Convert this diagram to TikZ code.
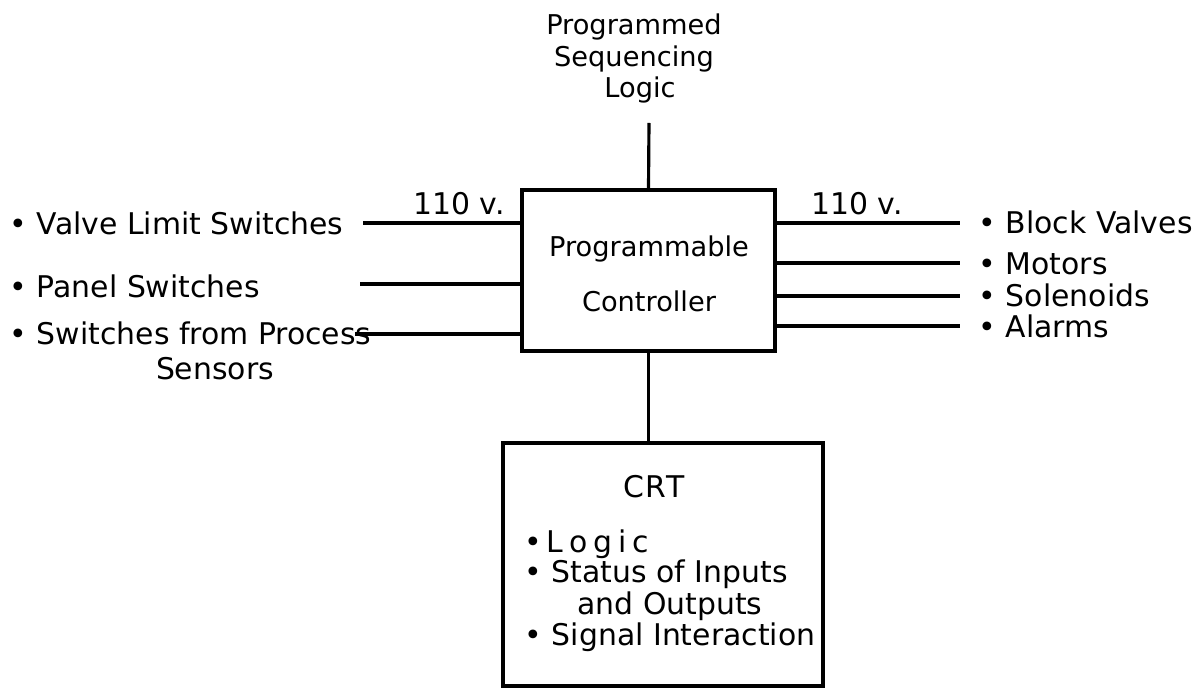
\documentclass[tikz,border=0pt]{standalone}
\usepackage{fontspec}
\setmainfont{DejaVu Sans}
\usetikzlibrary{positioning}

\tikzset{
  lbl/.style={font=\fontsize{17}{20}\selectfont, inner sep=0pt},
  sml/.style={font=\fontsize{15.5}{20}\selectfont, inner sep=0pt},
  box/.style={draw, line width=1.8pt, inner sep=0pt},
  wire/.style={line width=1.8pt}
}

\begin{document}
\begin{tikzpicture}[x=0.02cm,y=-0.02cm]
\useasboundingbox (0,0) rectangle (1198,688);
% controller
\node[box, minimum width=5.06cm, minimum height=3.22cm] (ctrl) at (648.5,270.5) {};
\node[sml, anchor=base] (ctrlA) at (649,257) {Programmable};
\node[sml, anchor=base] (ctrlB) at (649,312) {Controller};
% CRT
\node[box, minimum width=6.4cm, minimum height=4.86cm] (crt) at (663,564.5) {};
\node[lbl, anchor=base] (crttitle) at (654,498) {\addfontfeature{LetterSpace=6}CRT};
\node[lbl, anchor=base west] (crtlogic) at (524,553) {\textbullet\,\addfontfeature{LetterSpace=20}Logic};
\node[lbl, anchor=base west] (crtstatus) at (524,583) {\textbullet\,\,Status of Inputs};
\node[lbl, anchor=base west] (crtstatus2) at (577,615) {and Outputs};
\node[lbl, anchor=base west] (crtsignal) at (524,646) {\textbullet\,\,Signal Interaction};
% sequencing logic
\node[sml, anchor=base] (seqA) at (634,35) {Programmed};
\node[sml, anchor=base] (seqB) at (634,67) {Sequencing};
\node[sml, anchor=base] (seqC) at (640,98) {Logic};
\coordinate (seqEnd) at (649,123);
\draw[wire] (seqEnd) -- (ctrl.north);
\draw[wire] (ctrl.south) -- (ctrl.south |- crt.north);
% inputs
\node[lbl, anchor=base west] (valve) at (9,235) {\textbullet\,\,Valve Limit Switches};
\node[lbl, anchor=base west] (panel) at (9,298) {\textbullet\,\,Panel Switches};
\node[lbl, anchor=base west] (process) at (9,345) {\textbullet\,\,Switches from Process};
\node[lbl, anchor=base] (sensors) at (215,380) {Sensors};
\coordinate (valveIn) at (363,223);
\coordinate (panelIn) at (360,284);
\coordinate (processIn) at (355,334);
\draw[wire] (valveIn) -- (valveIn -| ctrl.west);
\draw[wire] (panelIn) -- (panelIn -| ctrl.west);
\draw[wire] (processIn) -- (processIn -| ctrl.west);
\node[lbl, anchor=base] (voltIn) at (459,215) {110 v.};
% outputs
\node[lbl, anchor=base west] (block) at (978,234) {\textbullet\,\,Block Valves};
\node[lbl, anchor=base west] (motors) at (978,275) {\textbullet\,\,Motors};
\node[lbl, anchor=base west] (solen) at (978,307) {\textbullet\,\,Solenoids};
\node[lbl, anchor=base west] (alarms) at (978,338) {\textbullet\,\,Alarms};
\coordinate (blockOut) at (960,223);
\coordinate (motorsOut) at (960,263);
\coordinate (solenOut) at (960,296);
\coordinate (alarmsOut) at (960,326);
\draw[wire] (blockOut -| ctrl.east) -- (blockOut);
\draw[wire] (motorsOut -| ctrl.east) -- (motorsOut);
\draw[wire] (solenOut -| ctrl.east) -- (solenOut);
\draw[wire] (alarmsOut -| ctrl.east) -- (alarmsOut);
\node[lbl, anchor=base] (voltOut) at (857,215) {110 v.};
\end{tikzpicture}
\end{document}
